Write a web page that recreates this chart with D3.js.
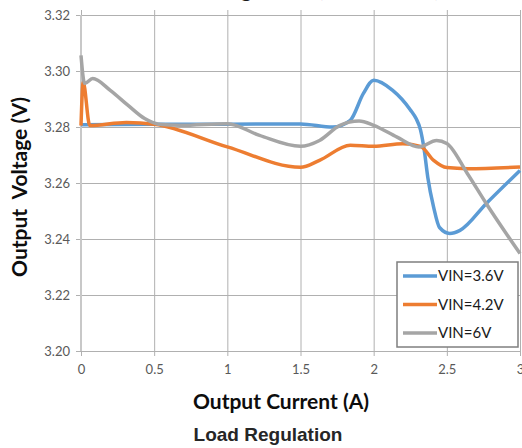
<!DOCTYPE html>
<html>
<head>
<meta charset="utf-8">
<script src="https://cdn.jsdelivr.net/npm/d3@7"></script>
<style>
  body { margin: 0; background: #fff; }
  .tick text { font-family: Lato, "Open Sans", sans-serif; font-size: 13px; fill: #595959; }
  .grid line { stroke: #b0b0b0; stroke-width: 1; }
  .grid path { display: none; }
</style>
</head>
<body>
<svg id="svg1" width="522" height="448"></svg>
<script>
// data
var xTicks = [0, 0.5, 1, 1.5, 2, 2.5, 3];
var yTicks = [3.20, 3.22, 3.24, 3.26, 3.28, 3.30, 3.32];
var seriesNames = ["VIN=3.6V", "VIN=4.2V", "VIN=6V"];

var vin36 = [
  [0, 3.2808], [0.5, 3.2810], [1.0, 3.2810], [1.5, 3.2811], [1.72, 3.2800],
  [1.84, 3.2824], [1.93, 3.2920], [2.0, 3.2967], [2.13, 3.2931], [2.25, 3.2862],
  [2.29, 3.2830], [2.32, 3.2790], [2.345, 3.2720], [2.37, 3.2620], [2.41, 3.2513],
  [2.45, 3.2441], [2.52, 3.2420], [2.59, 3.2431], [2.77, 3.2527], [3.0, 3.2645]
];
var vin42 = [
  [0, 3.2805], [0.015, 3.2960], [0.06, 3.2805], [0.31, 3.2816], [0.5, 3.2810],
  [1.0, 3.2729], [1.5, 3.2656], [1.63, 3.2681], [1.84, 3.2735], [2.0, 3.2731],
  [2.2, 3.2740], [2.32, 3.2731], [2.41, 3.2681], [2.5, 3.2655], [2.64, 3.2651],
  [3.0, 3.2657]
];
var vin6 = [
  [0, 3.3056], [0.025, 3.2955], [0.08, 3.2973], [0.2, 3.2931], [0.32, 3.2878],
  [0.435, 3.2830], [0.53, 3.2810], [0.68, 3.2806], [1.0, 3.2812], [1.22, 3.2770],
  [1.5, 3.2731], [1.63, 3.2752], [1.77, 3.2806], [1.90, 3.2821], [2.0, 3.2806],
  [2.16, 3.2764], [2.31, 3.2729], [2.43, 3.2752], [2.5, 3.2741], [2.64, 3.2634],
  [2.77, 3.2526], [3.0, 3.2348]
];
var colors = ["#5b9bd5", "#ed7d31", "#a5a5a5"];

var svg1 = d3.select("#svg1"),
    margin = {top: 15, right: 2, bottom: 97, left: 81},
    width = +svg1.attr("width") - margin.left - margin.right,
    height = +svg1.attr("height") - margin.top - margin.bottom;

var x = d3.scaleLinear().domain([0, 3]).range([0, width]),
    y = d3.scaleLinear().domain([3.20, 3.32]).range([height, 0]);

var g = svg1.append("g")
    .attr("transform", "translate(" + margin.left + "," + margin.top + ")");

// vertical gridlines + x tick labels
g.append("g")
    .attr("class", "grid")
    .attr("transform", "translate(0," + height + ")")
    .call(d3.axisBottom(x).tickValues(xTicks).tickSize(-height - 5).tickPadding(14)
      .tickFormat(function(d) { return d; }))
    .selectAll("line").attr("y1", 5);

// horizontal gridlines + y tick labels
g.append("g")
    .attr("class", "grid")
    .call(d3.axisLeft(y).tickValues(yTicks).tickSize(-width - 5).tickPadding(11)
      .tickFormat(d3.format(".2f")))
    .selectAll("line").attr("x1", -5).attr("x2", width);

// left axis line
g.append("line")
    .attr("x1", 0).attr("x2", 0).attr("y1", 0).attr("y2", height)
    .attr("stroke", "#c8c8c8").attr("stroke-width", 2);

var line = d3.line()
    .x(function(d) { return x(d[0]); })
    .y(function(d) { return y(d[1]); })
    .curve(d3.curveMonotoneX);

[vin36, vin42, vin6].forEach(function(s, i) {
  g.append("path")
      .datum(s)
      .attr("fill", "none")
      .attr("stroke", colors[i])
      .attr("stroke-width", 3.5)
      .attr("stroke-linejoin", "round")
      .attr("d", line);
});

// legend
var lg = svg1.append("g").attr("transform", "translate(397,262)");
lg.append("rect")
    .attr("width", 121).attr("height", 85)
    .attr("fill", "#fff").attr("stroke", "#7f7f7f").attr("stroke-width", 1.5);
seriesNames.forEach(function(name, i) {
  var yy = 14 + i * 28.5;
  lg.append("line")
      .attr("x1", 6).attr("x2", 40).attr("y1", yy).attr("y2", yy)
      .attr("stroke", colors[i]).attr("stroke-width", 3.5);
  lg.append("text")
      .attr("x", 41).attr("y", yy + 5)
      .attr("font-family", "Lato, 'Open Sans', sans-serif")
      .attr("font-size", 15).attr("fill", "#1a1a1a")
      .text(name);
});

// titles (top title is cut off in the reference, only its descenders show)
svg1.append("text")
    .attr("x", 305).attr("y", -3)
    .attr("text-anchor", "middle")
    .attr("font-family", "Lato, sans-serif").attr("font-weight", "bold")
    .attr("font-size", 20).attr("fill", "#1a1a1a")
    .text("Load Regulation (VOUT=3.3V)");

svg1.append("text")
    .attr("x", 281).attr("y", 409)
    .attr("text-anchor", "middle")
    .attr("font-family", "Lato, sans-serif").attr("font-weight", "bold")
    .attr("font-size", 21).attr("fill", "#0d0d0d")
    .text("Output Current (A)");

svg1.append("text")
    .attr("transform", "translate(27,187) rotate(-90)")
    .attr("text-anchor", "middle")
    .attr("font-family", "Lato, sans-serif").attr("font-weight", "bold")
    .attr("font-size", 21).attr("fill", "#0d0d0d")
    .attr("xml:space", "preserve")
    .style("white-space", "pre")
    .text("Output  Voltage (V)");

svg1.append("text")
    .attr("x", 268).attr("y", 441)
    .attr("text-anchor", "middle")
    .attr("font-family", "'Liberation Sans', Arial, sans-serif").attr("font-weight", "bold")
    .attr("font-size", 19).attr("fill", "#262626")
    .text("Load Regulation");
</script>
</body>
</html>
